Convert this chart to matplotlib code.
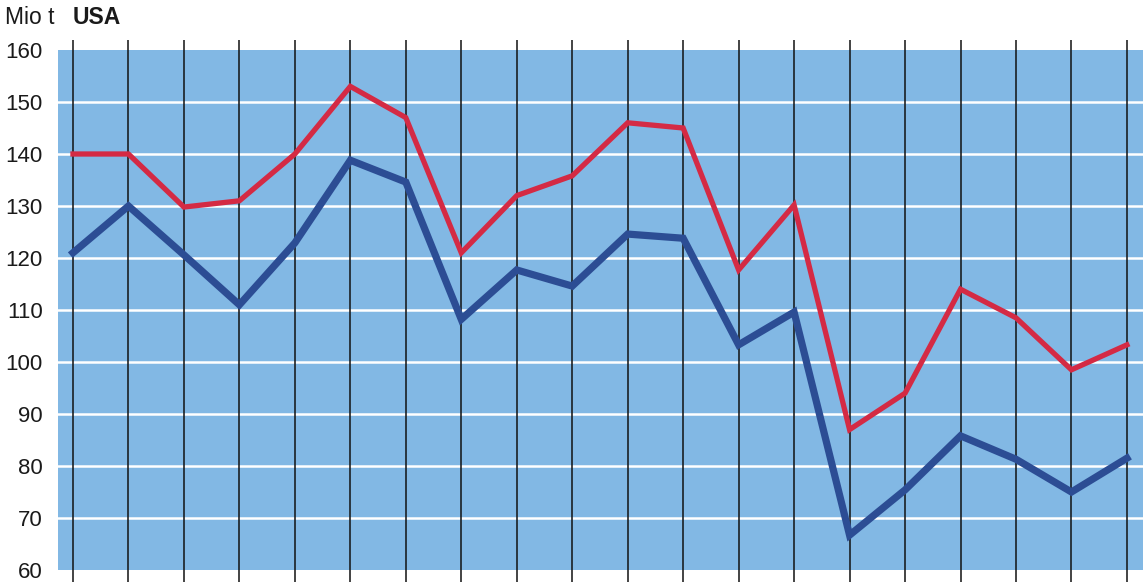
import matplotlib
matplotlib.use("Agg")
import matplotlib.pyplot as plt
import numpy as np

# Werte (Mio t), 20 Jahre
jahre = list(range(20))
rot = [140, 140, 129.8, 131, 140, 153, 147, 121, 132, 135.8,
       146, 145, 117.7, 130.2, 87, 94, 114, 108.5, 98.5, 103.3]
blau = [121, 130, 120.6, 111, 122.9, 138.8, 134.6, 108.2, 117.7, 114.6,
        124.6, 123.8, 103.3, 109.6, 66.7, 75.4, 85.8, 81.3, 75, 81.5]
yticks = [60, 70, 80, 90, 100, 110, 120, 130, 140, 150, 160]

plt.rcParams['font.family'] = ['Liberation Sans', 'DejaVu Sans']

fig = plt.figure(figsize=(11.46, 5.85), dpi=100)
ax = fig.add_axes([58/1146, 1-570/585, (1143-58)/1146, (570-50)/585])
ax.set_facecolor('#82b8e4')

ax.set_xlim(-0.27, 19.29)
ax.set_ylim(60, 160)

# weisse Gitterlinien
for y in yticks[1:-1]:
    ax.axhline(y, color='white', lw=1.8, zorder=1)

# schwarze senkrechte Linien, ueber den Rand hinaus
ax.vlines(jahre, 57.7, 161.9, colors='#111111', lw=1.1, clip_on=False, zorder=2)

ax.plot(jahre, blau, color='#2c4d94', lw=5.2, solid_joinstyle='miter', zorder=3)
ax.plot(jahre, rot, color='#d42a44', lw=3.8, solid_joinstyle='miter', zorder=4)

for s in ax.spines.values():
    s.set_visible(False)
ax.set_xticks([])
ax.set_yticks(yticks)
ax.tick_params(axis='y', length=0, pad=11, labelsize=16, labelcolor='#1a1a1a')

fig.text(5/1146, 1-18/585, 'Mio t', fontsize=16.5, va='center', ha='left', color='#1a1a1a')
fig.text(73/1146, 1-18/585, 'USA', fontsize=16.5, fontweight='bold', va='center', ha='left', color='#1a1a1a')

fig.savefig('out.png', dpi=100)
